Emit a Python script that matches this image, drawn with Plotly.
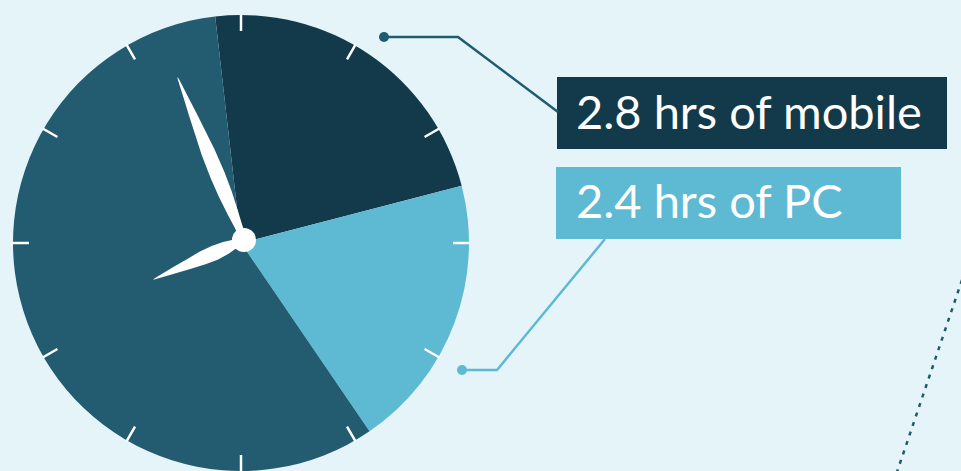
import math
import plotly.graph_objects as go

# Daily screen time shown on a clock face (hours)
categories = ["Mobile", "PC", "Other"]
hours = [2.8, 2.4, 7.1]
slice_colors = ["#133a4a", "#5dbad2", "#235c70"]
label_texts = ["2.8 hrs of mobile", "2.4 hrs of PC"]

W, H = 961, 471
BG = "#e5f4f9"

# clock geometry in pixel units
CX, CY, R = 241, 243, 228
HUB_X, HUB_Y = 244, 240

fig = go.Figure()

fig.add_trace(go.Pie(
    labels=categories,
    values=hours,
    sort=False,
    direction="clockwise",
    rotation=-6.5,
    marker=dict(colors=slice_colors, line=dict(width=0)),
    textinfo="none",
    hoverinfo="label+value",
    showlegend=False,
    domain=dict(x=[(CX - R) / W, (CX + R) / W], y=[max(0, (H - CY - R) / H), (H - (CY - R)) / H]),
))

# invisible pixel-space axes used for the decorations
fig.add_trace(go.Scatter(x=[0, W], y=[0, H], mode="markers",
                         marker=dict(opacity=0), hoverinfo="skip", showlegend=False))

shapes = []

# hour tick marks
for h in range(12):
    a = math.radians(h * 30)
    sx, sy = math.sin(a), -math.cos(a)
    shapes.append(dict(type="line", xref="x", yref="y",
                       x0=CX + sx * 212, y0=CY + sy * 212,
                       x1=CX + sx * (R + 1), y1=CY + sy * (R + 1),
                       line=dict(color="white", width=2.5)))


def hand_path(cx, cy, angle_deg, profile):
    a = math.radians(angle_deg)
    dx, dy = math.sin(a), -math.cos(a)
    px, py = -dy, dx
    left, right = [], []
    for t, w in profile:
        left.append((cx + dx * t + px * w, cy + dy * t + py * w))
        right.append((cx + dx * t - px * w, cy + dy * t - py * w))
    pts = left + right[::-1]
    return "M " + " L ".join(f"{x:.2f},{y:.2f}" for x, y in pts) + " Z"


minute_profile = [(0, 3), (15, 4), (30, 5.5), (50, 7), (70, 7.5), (95, 7),
                  (115, 5.5), (135, 4), (155, 2.2), (174, 0.6), (176, 0)]
hour_profile = [(0, 3), (10, 4.5), (20, 6.5), (32, 7.5), (45, 7), (60, 5.2),
                (75, 3.5), (90, 1.5), (98, 0.4), (99, 0)]

shapes.append(dict(type="path", xref="x", yref="y",
                   path=hand_path(HUB_X, HUB_Y, 337.8, minute_profile),
                   fillcolor="white", line=dict(width=0)))
shapes.append(dict(type="path", xref="x", yref="y",
                   path=hand_path(HUB_X, HUB_Y, 246.5, hour_profile),
                   fillcolor="white", line=dict(width=0)))
shapes.append(dict(type="circle", xref="x", yref="y",
                   x0=HUB_X - 12, y0=HUB_Y - 12, x1=HUB_X + 12, y1=HUB_Y + 12,
                   fillcolor="white", line=dict(width=0)))

# label boxes
shapes.append(dict(type="rect", xref="x", yref="y", x0=557, y0=77, x1=947, y1=149,
                   fillcolor=slice_colors[0], line=dict(width=0)))
shapes.append(dict(type="rect", xref="x", yref="y", x0=556, y0=167, x1=901, y1=239,
                   fillcolor=slice_colors[1], line=dict(width=0)))

# leader lines
shapes.append(dict(type="path", xref="x", yref="y", path="M 384,37 L 458,37 L 558,112",
                   line=dict(color="#1e5b6f", width=2.5)))
shapes.append(dict(type="circle", xref="x", yref="y", x0=379, y0=32, x1=389, y1=42,
                   fillcolor="#1e5b6f", line=dict(width=0)))
shapes.append(dict(type="path", xref="x", yref="y", path="M 462,370 L 497,370 L 605,239",
                   line=dict(color=slice_colors[1], width=2.5)))
shapes.append(dict(type="circle", xref="x", yref="y", x0=457, y0=365, x1=467, y1=375,
                   fillcolor=slice_colors[1], line=dict(width=0)))

# dotted guide on the right
shapes.append(dict(type="line", xref="x", yref="y", x0=962, y0=280, x1=896, y1=475,
                   line=dict(color="#1e5b6f", width=2.5, dash="4px,6px")))

annotations = [
    dict(x=574, y=111, xref="x", yref="y", text=label_texts[0], showarrow=False,
         xanchor="left", yanchor="middle",
         font=dict(family="Lato", size=47, color="white")),
    dict(x=574, y=200, xref="x", yref="y", text=label_texts[1], showarrow=False,
         xanchor="left", yanchor="middle",
         font=dict(family="Lato", size=47, color="white")),
]

fig.update_layout(
    width=W, height=H,
    margin=dict(l=0, r=0, t=0, b=0),
    paper_bgcolor=BG, plot_bgcolor="rgba(0,0,0,0)",
    xaxis=dict(range=[0, W], visible=False, fixedrange=True),
    yaxis=dict(range=[H, 0], visible=False, fixedrange=True),
    shapes=shapes,
    annotations=annotations,
    showlegend=False,
)

fig.write_html("out.html", config={"displayModeBar": False})
